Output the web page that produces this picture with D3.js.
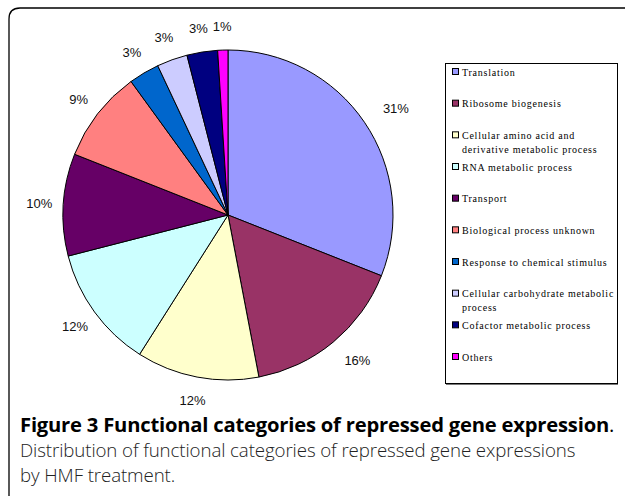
<!DOCTYPE html>
<html>
<head>
<meta charset="utf-8">
<script src="https://cdn.jsdelivr.net/npm/d3@7"></script>
<style>
  html, body { margin: 0; padding: 0; background: #fff; }
  svg { display: block; }
</style>
</head>
<body>
<svg id="chart" width="625" height="496"></svg>
<script>
// ---- data ----
const categories = [
  "Translation",
  "Ribosome biogenesis",
  "Cellular amino acid and derivative metabolic process",
  "RNA metabolic process",
  "Transport",
  "Biological process unknown",
  "Response to chemical stimulus",
  "Cellular carbohydrate metabolic process",
  "Cofactor metabolic process",
  "Others"
];
const legendLines = [
  ["Translation"],
  ["Ribosome biogenesis"],
  ["Cellular amino acid and", "derivative metabolic process"],
  ["RNA metabolic process"],
  ["Transport"],
  ["Biological process unknown"],
  ["Response to chemical stimulus"],
  ["Cellular carbohydrate metabolic", "process"],
  ["Cofactor metabolic process"],
  ["Others"]
];
const values = [31, 16, 12, 12, 10, 9, 3, 3, 3, 1];
const labels = ["31%", "16%", "12%", "12%", "10%", "9%", "3%", "3%", "3%", "1%"];
const colors = ["#9999FF", "#993366", "#FFFFCC", "#CCFFFF", "#660066",
                "#FF8080", "#0066CC", "#CCCCFF", "#000080", "#FF00FF"];
const captionTitle = "Figure 3 Functional categories of repressed gene expression";
const captionLines = [
  "Distribution of functional categories of repressed gene expressions",
  "by HMF treatment."
];

// ---- drawing ----
const svg = d3.select("#chart");

// frame
svg.append("path")
  .attr("d", "M9,496 V19 Q9,8 20,8 H625")
  .attr("fill", "none")
  .attr("stroke", "#000")
  .attr("stroke-width", 1.3);

const cx = 228, cy = 215, r = 165;
const g = svg.append("g").attr("transform", `translate(${cx},${cy})`);

const pie = d3.pie().sort(null).value(d => d);
const arcs = pie(values);
const arc = d3.arc().innerRadius(0).outerRadius(r);

g.selectAll("path.slice")
  .data(arcs)
  .enter().append("path")
  .attr("class", "slice")
  .attr("d", arc)
  .attr("fill", (d, i) => colors[i])
  .attr("stroke", "#000")
  .attr("stroke-width", 1)
  .attr("stroke-linejoin", "round");

// percentage labels
const labelR = 189;
g.selectAll("text.pct")
  .data(arcs)
  .enter().append("text")
  .attr("class", "pct")
  .attr("x", d => {
    const a = (d.startAngle + d.endAngle) / 2;
    const s = Math.sin(a);
    return labelR * s + (s > 0 ? 14 * s : 0);
  })
  .attr("y", d => {
    const a = (d.startAngle + d.endAngle) / 2;
    return -labelR * Math.cos(a);
  })
  .attr("text-anchor", "middle")
  .attr("dominant-baseline", "central")
  .attr("font-family", "Liberation Sans, Arial, sans-serif")
  .attr("font-size", 13)
  .attr("fill", "#111")
  .text((d, i) => labels[i]);

// legend
const lx = 445, ly = 63, lw = 172, lh = 320;
svg.append("rect")
  .attr("x", lx + 0.5).attr("y", ly + 0.5)
  .attr("width", lw).attr("height", lh)
  .attr("fill", "#fff")
  .attr("stroke", "#000")
  .attr("stroke-width", 1);
svg.append("line")
  .attr("x1", lx + 1).attr("x2", lx + lw + 1)
  .attr("y1", ly + lh + 1.5).attr("y2", ly + lh + 1.5)
  .attr("stroke", "#777").attr("stroke-width", 1.2);

const legY = d3.scaleLinear().domain([0, 9]).range([72, 357]);
const leg = svg.append("g");
const items = leg.selectAll("g.item")
  .data(categories)
  .enter().append("g")
  .attr("class", "item")
  .attr("transform", (d, i) => `translate(0,${legY(i)})`);

items.append("rect")
  .attr("x", 452.5).attr("y", -3.5)
  .attr("width", 6).attr("height", 6)
  .attr("fill", (d, i) => colors[i])
  .attr("stroke", "#000")
  .attr("stroke-width", 1);

items.each(function(d, i) {
  const t = d3.select(this).append("text")
    .attr("font-family", "Liberation Serif, Times New Roman, serif")
    .attr("font-size", 10)
    .attr("letter-spacing", 0.75)
    .attr("fill", "#000");
  legendLines[i].forEach((line, j) => {
    t.append("tspan")
      .attr("x", 462)
      .attr("y", 3.5 + j * 14)
      .text(line);
  });
});

// caption
const cap = svg.append("g");
const t1 = cap.append("text")
  .attr("x", 20).attr("y", 432)
  .attr("font-family", "Open Sans, sans-serif")
  .attr("font-size", 20.2)
  .attr("letter-spacing", -0.2)
  .attr("fill", "#000");
t1.append("tspan").attr("font-weight", "bold").text(captionTitle);
t1.append("tspan").attr("font-weight", "normal").text(".");

captionLines.forEach((line, i) => {
  cap.append("text")
    .attr("x", 20).attr("y", 457 + i * 24.5)
    .attr("font-family", "Open Sans, sans-serif")
    .attr("font-size", 18.7)
    .attr("font-weight", 300)
    .attr("letter-spacing", -0.1)
    .attr("fill", "#222")
    .text(line);
});
</script>
</body>
</html>
